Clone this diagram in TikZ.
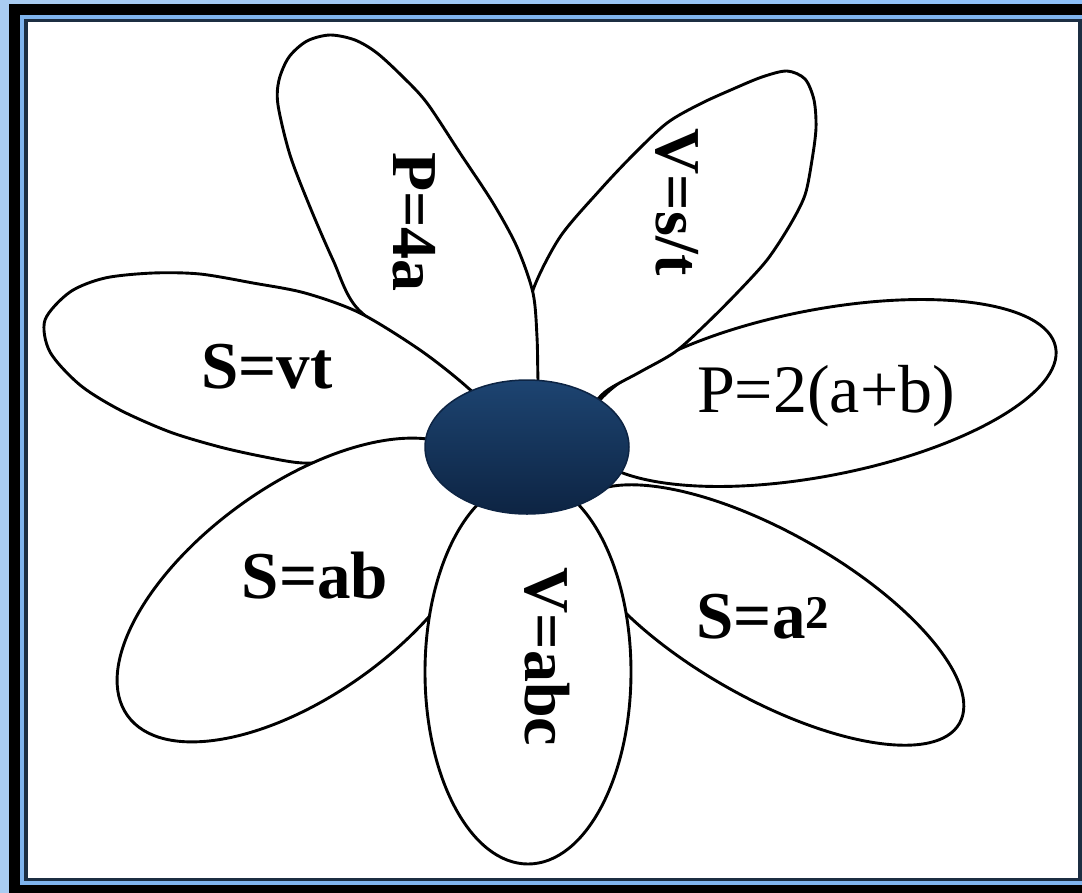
\documentclass[tikz,border=0pt]{standalone}
\usepackage{fontspec}
\setmainfont{Liberation Serif}
\definecolor{bgA}{HTML}{A9CCF1}
\definecolor{bgB}{HTML}{8CBFF8}
\definecolor{lineblue}{HTML}{7FB4EE}
\definecolor{darkedge}{HTML}{1C2E42}
\definecolor{navyT}{HTML}{1D4471}
\definecolor{navyB}{HTML}{0D2443}
\tikzset{
  petal/.style={draw=black, fill=white, line width=2.9pt, line join=round},
  lbl/.style={inner sep=0pt, anchor=base, font=\fontsize{67}{67}\selectfont\bfseries},
  vlbl/.style={inner sep=0pt, rotate=-90, font=\fontsize{64}{64}\selectfont\bfseries},
}
\begin{document}
\begin{tikzpicture}[x=1pt,y=-1pt]
\useasboundingbox (0,0) rectangle (1082,892);
\clip (0,0) rectangle (1082,892);
% frame
\shade[left color=bgA, right color=bgB] (0,0) rectangle (1082,892);
\fill[black] (9,4) rectangle (1100,910);
\fill[lineblue] (20,15) rectangle (1086,885);
\fill[darkedge] (24,19) rectangle (1082,881);
\fill[white] (28,22) rectangle (1078,878);
% petal P=2(a+b)
\draw[petal, rotate around={11:(820,393)}] (820,393) ellipse [x radius=240pt, y radius=83pt];
% petal V=s/t
\draw[petal] plot[smooth cycle] coordinates {(565,425) (530,375) (528,330) (533,290) (560,237) (600,190) (633,155) (667,123) (700,104) (733,89) (762,77) (787,71) (805,79) (814,100) (816,128) (812,160) (805,195) (790,225) (767,260) (737,293) (705,325) (675,352) (640,372) (605,392) (580,420)};
% petal P=4a
\draw[petal] plot[smooth cycle] coordinates {(515,425) (468,395) (418,355) (357,308) (333,260) (310,207) (290,155) (278,105) (279,80) (289,57) (307,41) (330,35) (355,40) (377,53) (403,77) (427,103) (460,153) (493,203) (517,247) (533,293) (537,337) (538,380) (540,420)};
% petal S=vt
\draw[petal] plot[smooth cycle] coordinates {(500,422) (467,387) (420,350) (360,313) (305,293) (253,283) (200,274) (153,273) (105,278) (70,292) (45,320) (50,352) (80,385) (120,410) (170,432) (220,447) (265,457) (303,463) (350,461) (400,457) (450,450)};
% petal S=ab
\draw[petal, rotate around={35.8:(302,590)}] (302,590) ellipse [x radius=215pt, y radius=105pt];
% petal S=a^2
\draw[petal, rotate around={-29.5:(768,615)}] (768,615) ellipse [x radius=220pt, y radius=83pt];
% petal V=abc
\draw[petal] (528,672) ellipse [x radius=103pt, y radius=192pt];
% centre
\draw[line width=1.5pt, draw=navyB, top color=navyT, bottom color=navyB] (527,447) ellipse [x radius=102pt, y radius=67pt];
% labels
\node[vlbl] (p4a) at (414,222) {P=4a};
\node[vlbl] (vst) at (677,202) {V=s/t};
\node[vlbl] (vabc) at (547,657) {V=abc};
\node[lbl] (svt) at (267,388) {S=vt};
\node[lbl] (sab) at (315,598) {S=ab};
\node[lbl] (sa2) at (763,638) {S=a\textsuperscript{2}};
\node[lbl, font=\fontsize{68}{68}\selectfont] (p2ab) at (826,412) {P=2(a+b)};
\end{tikzpicture}
\end{document}
